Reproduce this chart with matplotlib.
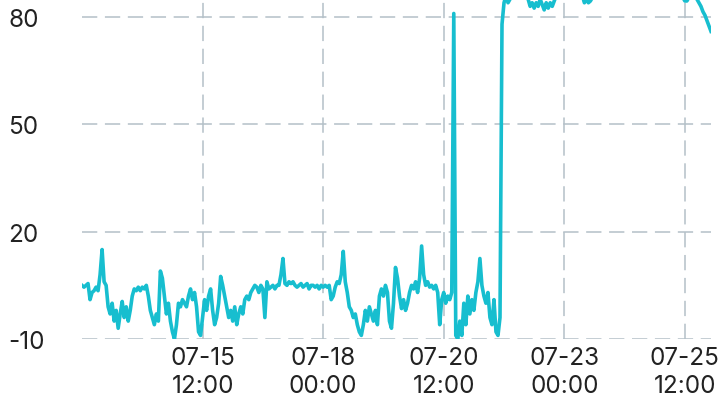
import pandas as pd
import matplotlib
matplotlib.use("Agg")
import matplotlib.pyplot as plt
import matplotlib.dates as mdates

plt.rcParams['font.family'] = ['Inter', 'DejaVu Sans']
plt.rcParams['axes.unicode_minus'] = False

# hourly readings from 07-13 00:00
low_part = [5, 4.5, 5, 5.5, 1, 3, 3.5, 4.5, 3.5, 8,
            15, 6, 5, -1, -3, 0, -5, -2, -7, -3,
            0.5, -4, -1, -5, -2, 2, 4, 3.5, 4.5, 3.5,
            4.5, 4, 5, 2, -2, -4, -6, -3, -5, 9,
            7, 2, -3, 0, -5, -8, -10, -6, 0, -1,
            1, 0, -1, 2, 4, 1, 3, -1, -8, -9,
            -4, 1, -2, 2, 4, -2, -6, -4, 0, 7.5,
            5, 2, -1, -4, -2, -5, -1, -6, -3, -1,
            -3, 1, 2, 1, 3, 4, 5, 4.5, 3, 5,
            4, -4, 6, 4, 4.5, 5, 4, 5, 5, 8,
            12.5, 5.5, 5, 6, 5.5, 6]
flat_part = [5, 4.5, 5, 5.5, 4.5, 5, 5.5, 4, 5, 5, 4.5, 5, 4, 5, 4.5, 5, 4.5, 5]
noisy_part = [1, 2, 4.5, 6, 5.5, 8, 14.5, 6, 3, -1,
              -2, -4, -3, -6, -8, -9, -6, -2, -5, -1,
              -3, -5, -2, -6, 2, 4, 2, 5, 3, -5,
              -7, 0, 10, 7, 2]
spike_part = [-1.5, 1, -2, 0, 3, 5, 4, 6, 3, 7,
              16, 8, 5, 6, 4.5, 5, 4, 5, 3, -6,
              1, 3, 0, 2, 1, 3, 81, -9, -10, -5,
              -9, 0, -6, 2, -3, 1, -2, 3, 6, 12.5,
              5, 2, 0, 3, -4, -6, 1, -8, -9, -4]
high_part = [78, 84, 86, 84, 85, 87, 88, 88, 87, 88,
             87, 88, 86, 85, 83, 84, 82.5, 84, 83, 85,
             83.5, 82, 84, 82.5, 84, 83, 84.5, 86, 87, 88,
             88, 89, 88.5, 88, 89, 88, 88.5, 89, 88, 87,
             86, 84, 85, 84, 84.5, 85.5, 87]
plateau_part = [88, 88.5, 89, 88, 88.5, 89, 88.5, 88, 89, 88.5,
                88, 88.5, 89, 89, 88.5, 88, 88.5, 89, 88, 88.5,
                89, 88.5, 88, 88.5, 89, 88, 88.5, 89, 88.5, 88,
                88.5, 89, 88, 88.5, 89, 88.5, 88, 88.5, 89, 88.5,
                88, 88.5]
end_part = [87, 85.5, 84.5, 84.5, 85.5, 86.5, 87, 86, 85, 84,
            83, 81.5, 80.5, 79, 77.5, 76]

values = low_part + flat_part + noisy_part + spike_part + high_part + plateau_part + end_part
times = pd.date_range('2024-07-13 00:00', periods=len(values), freq='h')

tick_times = pd.to_datetime(['2024-07-15 12:00', '2024-07-18 00:00', '2024-07-20 12:00',
                             '2024-07-23 00:00', '2024-07-25 12:00'])
y_ticks = [-10, 20, 50, 80]

fig = plt.figure(figsize=(7.18, 4.06), dpi=100)
ax = fig.add_axes([82 / 718, 66 / 406, 629 / 718, 340 / 406])

ax.plot(times, values, color='#17becf', linewidth=2.6, solid_joinstyle='round')

ax.set_xlim(times[0], pd.Timestamp('2024-07-26 01:00'))
ax.set_ylim(-10, 85.05)
ax.set_xticks(tick_times)
ax.xaxis.set_major_formatter(mdates.DateFormatter('%m-%d\n%H:%M'))
ax.set_yticks(y_ticks)

ax.grid(True, color='#b4c0c8', linewidth=1.1, linestyle=(0, (10, 5)))
for s in ax.spines.values():
    s.set_visible(False)

ax.tick_params(axis='x', length=0, pad=5, labelsize=17.5, labelcolor='#222222')
ax.tick_params(axis='y', length=0, pad=53, labelsize=17.5, labelcolor='#222222')
for lbl in ax.get_yticklabels():
    lbl.set_horizontalalignment('left')
for lbl in ax.get_xticklabels():
    lbl.set_linespacing(1.3)

fig.savefig('out.png', dpi=100)
plt.close(fig)
